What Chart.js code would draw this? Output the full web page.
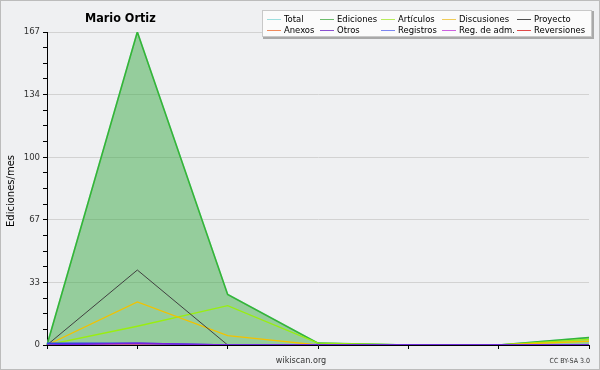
<!DOCTYPE html>
<html><head><meta charset="utf-8">
<script src="https://cdn.jsdelivr.net/npm/chart.js@4/dist/chart.umd.min.js"></script>
<style>html,body{margin:0;padding:0;background:#eff0f2;}#wrap{width:600px;height:370px;position:relative;}</style>
</head><body><div id="wrap"><canvas id="c" width="600" height="370"></canvas></div>
<script>
const chartTitle = 'Mario Ortiz';
const yTitle = 'Ediciones/mes';
const categories = ['1', '2', '3', '4', '5', '6', '7'];
const yTicks = [0, 33.4, 66.8, 100.2, 133.6, 167];
const yTickLabels = ['0', '33', '67', '100', '134', '167'];
const seriesNames = ['Total', 'Ediciones', 'Artículos', 'Discusiones', 'Proyecto', 'Anexos', 'Otros', 'Registros', 'Reg. de adm.', 'Reversiones'];
const total       = [0, 167, 27, 1, 0, 0, 4];
const ediciones   = [0, 167, 27, 1, 0, 0, 4];
const articulos   = [0, 10, 21, 1, 0, 0, 3];
const discusiones = [0, 23, 5, 0, 0, 0, 2];
const proyecto    = [0, 40, 0, 0, 0, 0, 0];
const anexos      = [0, 0, 0, 0, 0, 0, 0];
const otros       = [0, 1, 0, 0, 0, 0, 0];
const registros   = [1, 1, 0, 0, 0, 0, 0];
const regAdm      = [0, 0, 0, 0, 0, 0, 0];
const reversiones = [0, 0, 0, 0, 0, 0, 0];

const seriesData = [total, ediciones, articulos, discusiones, proyecto, anexos, otros, registros, regAdm, reversiones];
const lineColors = ['#9fe3e3', '#36b536', '#99ee11', '#f2c200', '#404040', '#f08050', '#7a1fe0', '#3040f0', '#c050e0', '#e03030'];
const legendColors = ['#9cdede', '#6cbc6c', '#b8ec5c', '#f0cc58', '#505050', '#f08a5c', '#8a50d0', '#7c86f0', '#cc60e0', '#e04848'];
const widths = [1.5, 1.6, 1.3, 1.3, 1, 1, 1.5, 1.5, 1, 1];
const orders = [11, 10, 5, 4, 3, 6, 1, 2, 7, 8];

const datasets = seriesNames.map((n, i) => ({
  label: n,
  data: seriesData[i],
  borderColor: lineColors[i],
  borderWidth: widths[i],
  backgroundColor: i === 1 ? 'rgba(60,170,70,0.5)' : 'transparent',
  fill: i === 1 ? 'origin' : false,
  pointRadius: 0,
  tension: 0,
  order: orders[i]
}));

const FONT = '"DejaVu Sans Condensed", "DejaVu Sans", sans-serif';

const decor = {
  id: 'decor',
  beforeDraw(chart) {
    const c = chart.ctx;
    c.save();
    c.fillStyle = '#eff0f2';
    c.fillRect(0, 0, 600, 370);
    c.restore();
  },
  afterDraw(chart) {
    const c = chart.ctx;
    c.save();
    c.strokeStyle = '#bcbcbc';
    c.lineWidth = 1;
    c.strokeRect(0.5, 0.5, 599, 369);
    c.fillStyle = '#000';
    c.font = 'bold 12.5px ' + FONT;
    c.textBaseline = 'alphabetic';
    c.textAlign = 'left';
    c.fillText(chartTitle, 85, 22);
    c.save();
    c.translate(13.5, 191);
    c.rotate(-Math.PI / 2);
    c.textAlign = 'center';
    c.font = '10px "DejaVu Sans", sans-serif';
    c.fillStyle = '#000';
    c.fillText(yTitle, 0, 0);
    c.restore();
    c.font = '9px ' + FONT;
    c.fillStyle = '#333';
    c.textAlign = 'center';
    c.fillText('wikiscan.org', 301, 363);
    c.font = '7px ' + FONT;
    c.textAlign = 'right';
    c.fillText('CC BY-SA 3.0', 590, 363);
    c.fillStyle = '#a9a9a9';
    c.fillRect(263, 11, 331, 28);
    c.fillStyle = '#fbfbfb';
    c.fillRect(262, 10, 330, 27);
    c.strokeStyle = '#c8c8c8';
    c.strokeRect(262.5, 10.5, 329, 26);
    const colX = [267, 320, 381, 442, 517];
    const rowY = [19, 30];
    c.font = '9.4px ' + FONT;
    c.textAlign = 'left';
    c.textBaseline = 'middle';
    chart.data.datasets.forEach((d, i) => {
      const x = colX[i % 5], y = rowY[Math.floor(i / 5)];
      c.strokeStyle = legendColors[i];
      c.lineWidth = 1;
      c.beginPath();
      c.moveTo(x, y + 0.5);
      c.lineTo(x + 14, y + 0.5);
      c.stroke();
      c.fillStyle = '#000';
      c.fillText(d.label, x + 17, y + 0.5);
    });
    c.restore();
  }
};

new Chart(document.getElementById('c'), {
  type: 'line',
  data: { labels: categories, datasets },
  options: {
    responsive: false,
    animation: false,
    devicePixelRatio: 1,
    layout: { padding: { top: 32, right: 11, bottom: 0, left: 0 } },
    plugins: { legend: { display: false }, title: { display: false }, tooltip: { enabled: false } },
    scales: {
      x: {
        type: 'category',
        offset: false,
        grid: { display: true, drawOnChartArea: false, drawTicks: true, tickLength: 4, tickColor: '#000' },
        border: { display: true, color: '#000', width: 1 },
        ticks: { display: false },
        afterFit(s) { s.height = 25; }
      },
      y: {
        min: 0,
        max: 167,
        afterBuildTicks(s) {
          const t = [];
          for (let i = 0; i < yTicks.length; i++) {
            t.push({ value: yTicks[i], label: yTickLabels[i], major: true });
            if (i < yTicks.length - 1) {
              const step = (yTicks[i + 1] - yTicks[i]) / 4;
              for (let k = 1; k < 4; k++) t.push({ value: yTicks[i] + step * k, label: '' });
            }
          }
          s.ticks = t;
        },
        grid: {
          color: (ctx) => (ctx.tick && yTicks.includes(ctx.tick.value) && ctx.tick.value !== 0) ? '#d2d2d2' : 'rgba(0,0,0,0)',
          tickColor: '#000',
          tickLength: 4,
          drawTicks: true
        },
        border: { display: true, color: '#000', width: 1 },
        ticks: {
          autoSkip: false,
          padding: 3,
          color: '#333',
          font: { family: FONT, size: 9.5 },
          callback: function (v) {
            const idx = yTicks.indexOf(v);
            return idx >= 0 ? yTickLabels[idx] : '';
          }
        },
        afterFit(s) { s.width = 47; }
      }
    }
  },
  plugins: [decor]
});
</script></body></html>
